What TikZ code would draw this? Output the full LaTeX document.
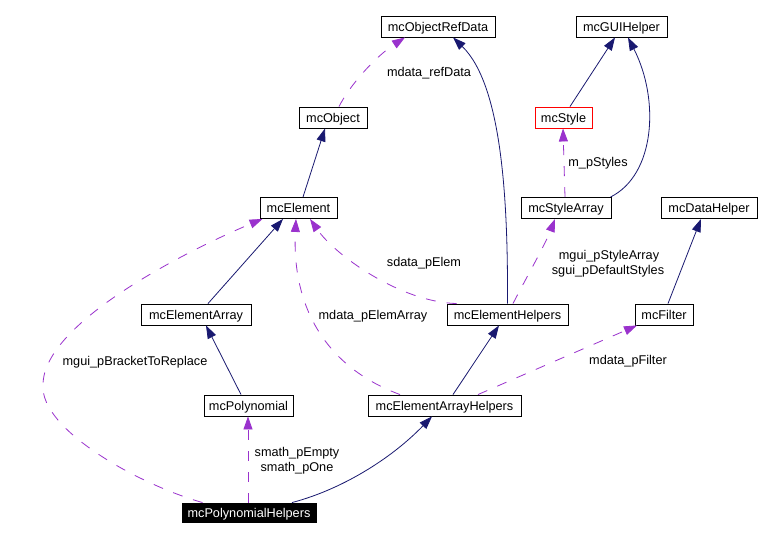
\documentclass[tikz,border=0pt]{standalone}
\usepackage{fontspec}
\setmainfont{Liberation Sans}
\usetikzlibrary{arrows.meta}
\definecolor{cInh}{RGB}{25,25,112}
\definecolor{cUse}{RGB}{154,50,205}
\begin{document}
\begin{tikzpicture}[x=1pt,y=-1pt,
  cls/.style={draw=black, line width=0.9pt, fill=white, inner sep=0pt, minimum height=21pt, text height=10pt, text depth=0pt, font=\fontsize{12.7}{15}\selectfont},
  inhedge/.style={draw=cInh, line width=0.8pt, -{Triangle[length=13pt,width=9pt]}},
  useedge/.style={draw=cUse, line width=0.8pt, dash pattern=on 10pt off 11pt, -{Triangle[length=13pt,width=9pt]}},
  lbl/.style={inner sep=0pt, text height=10pt, text depth=0pt, font=\fontsize{12.7}{15}\selectfont}]
\useasboundingbox[fill=white] (0,0) rectangle (760,540);
% nodes
\node[cls, minimum width=114pt] (ord) at (438,26.5) {mcObjectRefData};
\node[cls, minimum width=91pt] (gui) at (621.5,26.5) {mcGUIHelper};
\node[cls, draw=red, minimum width=57pt] (sty) at (563.5,117.5) {mcStyle};
\node[cls, minimum width=68pt] (obj) at (333,117.5) {mcObject};
\node[cls, minimum width=77pt] (ele) at (298.5,208) {mcElement};
\node[cls, minimum width=90pt] (sta) at (566,208) {mcStyleArray};
\node[cls, minimum width=96pt] (dat) at (709,208) {mcDataHelper};
\node[cls, minimum width=110pt] (ela) at (196,314.5) {mcElementArray};
\node[cls, minimum width=121pt] (elh) at (507.5,314.5) {mcElementHelpers};
\node[cls, minimum width=58pt] (fil) at (664,314.5) {mcFilter};
\node[cls, minimum width=89pt] (pol) at (248.5,405.5) {mcPolynomial};
\node[cls, minimum width=153pt] (eah) at (444.5,405.5) {mcElementArrayHelpers};
\node[cls, fill=black, text=white, minimum width=134pt, minimum height=19pt] (poh) at (249,512.5) {mcPolynomialHelpers};
% edges
\draw[useedge] ([xshift=6pt]obj.north) .. controls (350,85) and (375,57) .. ([xshift=-33pt]ord.south);
\node[lbl] (l1) at (429,72) {mdata\_refData};
\draw[inhedge] ([xshift=4.5pt]ele.north) -- ([xshift=-8pt]obj.south);
\draw[inhedge] (elh.north) .. controls (508,200) and (502,85) .. ([xshift=15pt]ord.south);
\draw[inhedge] ([xshift=6.5pt]sty.north) -- ([xshift=-6.5pt]gui.south);
\draw[inhedge] ([xshift=-1pt]sta.north east) .. controls (655,175) and (660,100) .. ([xshift=6.5pt]gui.south);
\draw[useedge] ([xshift=-1pt]sta.north) -- ([xshift=-0.5pt]sty.south);
\node[lbl] (l2) at (598,162) {m\_pStyles};
\draw[useedge] ([xshift=5.5pt]elh.north) .. controls (525,280) and (545,245) .. ([xshift=-11pt]sta.south);
\node[lbl] (l3) at (609,254) {mgui\_pStyleArray};
\node[lbl] (l4) at (608,269.5) {sgui\_pDefaultStyles};
\draw[inhedge] ([xshift=4pt]fil.north) -- ([xshift=-8pt]dat.south);
\draw[useedge] ([xshift=33.5pt]eah.north) -- ([xshift=-27pt]fil.south);
\node[lbl] (l5) at (628,359) {mdata\_pFilter};
\draw[inhedge] ([xshift=8.5pt]eah.north) -- ([xshift=-8.5pt]elh.south);
\draw[useedge] ([xshift=10pt]elh.north west) .. controls (400,302) and (335,255) .. ([xshift=11.5pt]ele.south);
\node[lbl] (l6) at (424,261) {sdata\_pElem};
\draw[useedge] ([xshift=-44.5pt]eah.north) .. controls (320,365) and (292,300) .. ([xshift=-2.5pt]ele.south);
\node[lbl] (l7) at (373,314) {mdata\_pElemArray};
\coordinate (lp) at (43,385);
\draw[useedge] ([xshift=21pt]poh.north west) .. controls (140,485) and (40,430) .. (lp) .. controls (43,320) and (200,245) .. ([xshift=3pt]ele.south west);
\node[lbl] (l8) at (135,360) {mgui\_pBracketToReplace};
\draw[inhedge] ([xshift=12pt]ela.north) -- ([xshift=-15.5pt]ele.south);
\draw[inhedge] ([xshift=-7.5pt]pol.north) -- ([xshift=10pt]ela.south);
\draw[useedge] ([xshift=-1pt]poh.north) -- ([xshift=-0.5pt]pol.south);
\node[lbl] (l9) at (297,451) {smath\_pEmpty};
\node[lbl] (l10) at (297,466.5) {smath\_pOne};
\draw[inhedge] ([xshift=43pt]poh.north) .. controls (340,490) and (390,460) .. ([xshift=-12.5pt]eah.south);
\end{tikzpicture}
\end{document}
